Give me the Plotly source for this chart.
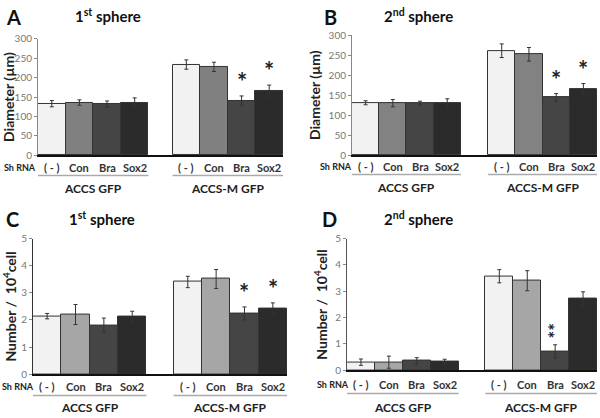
import plotly.graph_objects as go

W, H = 600, 418

# data
categories = ['( - )', 'Con', 'Bra', 'Sox2']
groups = ['ACCS GFP', 'ACCS-M GFP']

a_accs = [133, 136, 132, 136]
a_accs_err = [8, 7, 8, 12]
a_accsm = [234, 228, 141, 166]
a_accsm_err = [12, 12, 12, 15]

b_accs = [131, 130, 130, 129]
b_accs_err = [5, 9, 5, 12]
b_accsm = [261, 252, 144, 165]
b_accsm_err = [17, 17, 10, 14]

c_accs = [2.14, 2.20, 1.81, 2.13]
c_accs_err = [0.10, 0.37, 0.26, 0.19]
c_accsm = [3.40, 3.51, 2.24, 2.42]
c_accsm_err = [0.21, 0.35, 0.24, 0.21]

d_accs = [0.31, 0.31, 0.36, 0.32]
d_accs_err = [0.12, 0.23, 0.12, 0.10]
d_accsm = [3.57, 3.40, 0.72, 2.72]
d_accsm_err = [0.25, 0.38, 0.25, 0.26]

# stars: (index in ACCS-M group, text)
a_stars = [(2, '*'), (3, '*')]
b_stars = [(2, '*'), (3, '*')]
c_stars = [(2, '*'), (3, '*')]
d_stars = [(2, '**')]

FONT = 'Lato'


def py(p):
    # pixel from top -> paper y
    return 1 - p / H


def px(p):
    return p / W


panels = [
    dict(letter='A', title='1<sup>st</sup> sphere', ytitle='Diameter (µm)',
         vals=a_accs + a_accsm, errs=a_accs_err + a_accsm_err, stars=a_stars,
         yrange=[0, 300], dtick=50, xdom=[38, 283], ydom=[153, 33], gap=0.87,
         con='#808080', yline='#888888', letter_xy=(4, 10), title_x=73, title_y=9,
         shrna_x=2, lab_y=[166, 174, 187]),
    dict(letter='B', title='2<sup>nd</sup> sphere', ytitle='Diameter (µm)',
         vals=b_accs + b_accsm, errs=b_accs_err + b_accsm_err, stars=b_stars,
         yrange=[0, 300], dtick=50, xdom=[352, 597], ydom=[153, 29], gap=1.0,
         con='#828282', yline='#888888', letter_xy=(322, 10), title_x=382, title_y=9,
         shrna_x=318, lab_y=[165, 173, 186]),
    dict(letter='C', title='1<sup>st</sup> sphere', ytitle='Number /  10<sup>4</sup>cell',
         vals=c_accs + c_accsm, errs=c_accs_err + c_accsm_err, stars=c_stars,
         yrange=[0, 5], dtick=1, xdom=[33, 287], ydom=[379, 239], gap=0.96,
         con='#a6a6a6', yline='#333333', letter_xy=(4, 219), title_x=67, title_y=218,
         shrna_x=0, lab_y=[392, 401, 413]),
    dict(letter='D', title='2<sup>nd</sup> sphere', ytitle='Number /  10<sup>4</sup>cell',
         vals=d_accs + d_accsm, errs=d_accs_err + d_accsm_err, stars=d_stars,
         yrange=[0, 5], dtick=1, xdom=[347, 597], ydom=[375, 239], gap=0.96,
         con='#a6a6a6', yline='#555555', letter_xy=(320, 219), title_x=382, title_y=218,
         shrna_x=315, lab_y=[390, 399, 413]),
]

fig = go.Figure()
annotations = []
shapes = []
layout = {}

for i, p in enumerate(panels):
    n = '' if i == 0 else str(i + 1)
    xref, yref = 'x' + n, 'y' + n
    g = p['gap']
    xs = [0, 1, 2, 3] + [4 + g + k for k in range(4)]
    colors = ['#f2f2f2', p['con'], '#454545', '#2b2b2b'] * 2

    fig.add_trace(go.Bar(
        x=xs, y=p['vals'], width=1,
        marker=dict(color=colors, line=dict(color='#333333', width=1)),
        error_y=dict(type='data', array=p['errs'], color='#333333',
                     thickness=1, width=2),
        xaxis=xref, yaxis=yref, showlegend=False, hoverinfo='y',
    ))

    layout['xaxis' + n] = dict(
        domain=[px(p['xdom'][0]), px(p['xdom'][1])],
        range=[-0.5, 7.5 + g], anchor=yref,
        showline=True, linecolor='#111111', linewidth=2,
        showticklabels=False, ticks='', showgrid=False, zeroline=False,
    )
    layout['yaxis' + n] = dict(
        domain=[py(p['ydom'][0]), py(p['ydom'][1])],
        range=p['yrange'], dtick=p['dtick'], anchor=xref,
        showline=True, linecolor=p['yline'], linewidth=1,
        ticks='outside', ticklen=3, tickcolor='#888888',
        tickfont=dict(family=FONT, size=10, color='#777777'),
        showgrid=False, zeroline=False,
        title=dict(text='<b>' + p['ytitle'] + '</b>', standoff=4,
                   font=dict(family=FONT, size=14, color='#222222')),
    )

    # panel letter and title
    annotations.append(dict(
        text='<b>' + p['letter'] + '</b>', xref='paper', yref='paper',
        x=px(p['letter_xy'][0]), y=py(p['letter_xy'][1]),
        xanchor='left', yanchor='middle', showarrow=False,
        font=dict(family=FONT, size=20, color='#111111')))
    annotations.append(dict(
        text='<b>' + p['title'] + '</b>', xref='paper', yref='paper',
        x=px(p['title_x']), y=py(p['title_y']),
        xanchor='left', yanchor='middle', showarrow=False,
        font=dict(family=FONT, size=15, color='#111111')))

    # Sh RNA label and category labels
    ly_cat, ly_line, ly_grp = p['lab_y']
    annotations.append(dict(
        text='<b>Sh RNA</b>', xref='paper', yref='paper',
        x=px(p['shrna_x']), y=py(ly_cat), xanchor='left', yanchor='middle',
        showarrow=False, font=dict(family=FONT, size=9, color='#222222')))
    for k, x in enumerate(xs):
        annotations.append(dict(
            text='<b>' + categories[k % 4] + '</b>', xref=xref, yref='paper',
            x=x, y=py(ly_cat), xanchor='center', yanchor='middle',
            showarrow=False, font=dict(family=FONT, size=11, color='#333333')))

    for gi, (x0, x1) in enumerate([(-0.5, 3.5), (3.5 + g, 7.5 + g)]):
        shapes.append(dict(
            type='line', xref=xref, yref='paper', x0=x0, x1=x1,
            y0=py(ly_line), y1=py(ly_line),
            line=dict(color='#aaaaaa', width=1.5)))
        annotations.append(dict(
            text='<b>' + groups[gi] + '</b>', xref=xref, yref='paper',
            x=(x0 + x1) / 2, y=py(ly_grp), xanchor='center', yanchor='middle',
            showarrow=False, font=dict(family=FONT, size=12, color='#222222')))

    # significance stars
    for idx, s in p['stars']:
        k = 4 + idx
        top = p['vals'][k] + p['errs'][k]
        if len(s) > 1:
            annotations.append(dict(
                text='<b>' + s + '</b>', xref=xref, yref=yref, x=xs[k], y=top,
                xanchor='center', yanchor='bottom', yshift=4, textangle=-90,
                showarrow=False, font=dict(family=FONT, size=18, color='#222222')))
        else:
            annotations.append(dict(
                text='<b>' + s + '</b>', xref=xref, yref=yref, x=xs[k], y=top,
                xanchor='center', yanchor='bottom', yshift=-2,
                showarrow=False, font=dict(family=FONT, size=24, color='#222222')))

fig.update_layout(
    width=W, height=H,
    margin=dict(l=0, r=0, t=0, b=0),
    plot_bgcolor='white', paper_bgcolor='white',
    bargap=0, annotations=annotations, shapes=shapes,
    **layout,
)

# the page body has a default margin; drop it so the figure fills the window
fig.write_html('out.html', config={'displayModeBar': False},
               post_script="document.body.style.margin='0';")
